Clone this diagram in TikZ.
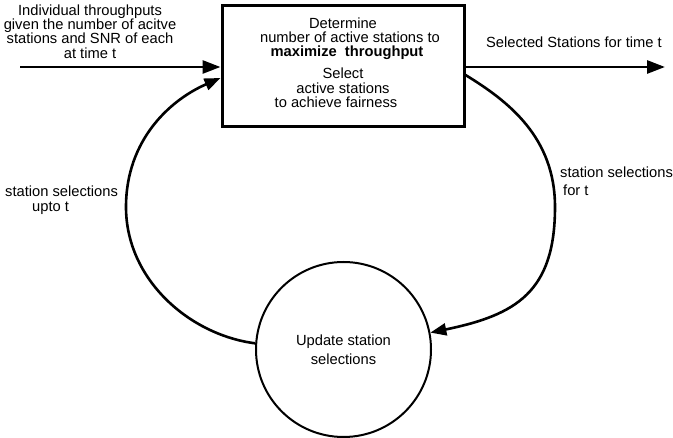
\documentclass[tikz,border=0pt]{standalone}
\usepackage{fontspec}
\setmainfont{Liberation Sans}
\usetikzlibrary{arrows.meta,calc}
\begin{document}
\begin{tikzpicture}[x=1pt,y=-1pt,
  lbl/.style={font=\fontsize{14.7}{14.3}\selectfont, inner sep=0pt},
  flow/.style={line width=2.8pt, -{Triangle[length=18pt,width=13pt]}},
  loopar/.style={line width=2.6pt, -{Triangle[length=16pt,width=12pt]}}]
\useasboundingbox (0,0) rectangle (673,438);
% main box
\node[draw, line width=3pt, minimum width=242pt, minimum height=121pt, inner sep=0pt] (box) at (343,66.5) {};
\node[lbl, align=center] (boxtext) at (343,62.5) {Determine\\\hspace*{14pt}number of active stations to\\\hspace*{8pt}\textbf{maximize\ \ throughput}\\[8pt]Select\\active stations\\to achieve fairness\hspace*{14pt}};
% circle
\node[draw, circle, line width=2pt, minimum size=175pt, inner sep=0pt, align=center,
      font=\fontsize{14.7}{19}\selectfont] (upd) at (343.5,349.5) {Update station\\selections};
% labels
\node[lbl, align=center] (intext) at (90,31.5) {Individual throughputs\\given the number of acitve\\stations and SNR of each\\at time t};
\node[lbl] (outtext) at (574,42) {Selected Stations for time t};
\node[lbl, align=left, anchor=west] (lefttext) at (5,200) {station selections\\[0.7pt]\hspace*{27pt}upto t};
\node[lbl, align=left, anchor=west] (righttext) at (560,181) {station selections\\[3.7pt]\hspace*{3pt}for t};
% connectors
\coordinate (in) at (20,67);
\coordinate (out) at (665,67);
\draw[flow] (in) -- (in -| box.west);
\draw[flow] (out -| box.east) -- (out);
\draw[loopar] (upd.176) .. controls (190,335) and (126,280) .. (126,207)
  .. controls (126,140) and (170,100) .. ($(box.west)+(0,11.5)$);
\draw[loopar] ($(box.east)+(0,8.5)$) .. controls (508,101) and (555,137) .. (555,207)
  .. controls (555,292) and (516,315) .. (upd.11);
\end{tikzpicture}
\end{document}
